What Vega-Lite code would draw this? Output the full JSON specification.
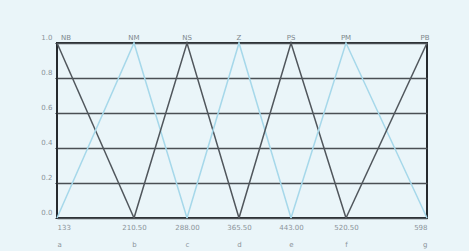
{
  "$schema": "https://vega.github.io/schema/vega-lite/v6.json",
  "width": 370,
  "height": 175,
  "autosize": {"type": "none"},
  "padding": {"left": 57, "top": 43, "right": 42, "bottom": 33},
  "background": "#eaf5f9",
  "config": {
    "view": {"stroke": "#262a2e", "strokeWidth": 2, "fill": "#eaf5f9"},
    "font": "DejaVu Sans"
  },
  "datasets": {
    "lines": [
      {"set": "NB", "tone": "dark", "x": 133, "y": 1},
      {"set": "NB", "tone": "dark", "x": 210.5, "y": 0},
      {"set": "NM", "tone": "light", "x": 133, "y": 0},
      {"set": "NM", "tone": "light", "x": 210.5, "y": 1},
      {"set": "NM", "tone": "light", "x": 288, "y": 0},
      {"set": "NS", "tone": "dark", "x": 210.5, "y": 0},
      {"set": "NS", "tone": "dark", "x": 288, "y": 1},
      {"set": "NS", "tone": "dark", "x": 365.5, "y": 0},
      {"set": "Z", "tone": "light", "x": 288, "y": 0},
      {"set": "Z", "tone": "light", "x": 365.5, "y": 1},
      {"set": "Z", "tone": "light", "x": 443, "y": 0},
      {"set": "PS", "tone": "dark", "x": 365.5, "y": 0},
      {"set": "PS", "tone": "dark", "x": 443, "y": 1},
      {"set": "PS", "tone": "dark", "x": 520.5, "y": 0},
      {"set": "PM", "tone": "light", "x": 443, "y": 0},
      {"set": "PM", "tone": "light", "x": 520.5, "y": 1},
      {"set": "PM", "tone": "light", "x": 598, "y": 0},
      {"set": "PB", "tone": "dark", "x": 520.5, "y": 0},
      {"set": "PB", "tone": "dark", "x": 598, "y": 1}
    ],
    "peaks": [
      {"set": "NB", "x": 133, "y": 1},
      {"set": "NM", "x": 210.5, "y": 1},
      {"set": "NS", "x": 288, "y": 1},
      {"set": "Z", "x": 365.5, "y": 1},
      {"set": "PS", "x": 443, "y": 1},
      {"set": "PM", "x": 520.5, "y": 1},
      {"set": "PB", "x": 598, "y": 1}
    ]
  },
  "layer": [
    {
      "data": {"name": "lines"},
      "mark": {"type": "line", "strokeWidth": 1.5},
      "encoding": {
        "x": {
          "field": "x", "type": "quantitative",
          "scale": {"domain": [133, 210.5, 288, 365.5, 443, 520.5, 598], "range": [0, 77, 130, 182, 234, 289, 370], "nice": false, "zero": false},
          "axis": {
            "title": null,
            "values": [133, 210.5, 288, 365.5, 443, 520.5, 598],
            "tickCount": 20,
            "labelExpr": "datum.value == 133 ? ['133', 'a'] : datum.value == 210.5 ? ['210.50', 'b'] : datum.value == 288 ? ['288.00', 'c'] : datum.value == 365.5 ? ['365.50', 'd'] : datum.value == 443 ? ['443.00', 'e'] : datum.value == 520.5 ? ['520.50', 'f'] : ['598', 'g']",
            "labelLineHeight": 17,
            "labelFontSize": 7,
            "labelColor": "#8a9499",
            "labelPadding": 5,
            "labelOverlap": false,
            "labelBound": false,
            "ticks": false,
            "domain": false,
            "grid": false
          }
        },
        "y": {
          "field": "y", "type": "quantitative",
          "scale": {"domain": [0, 1], "nice": false},
          "axis": {
            "title": null,
            "values": [0, 0.2, 0.4, 0.6, 0.8, 1],
            "tickCount": 20,
            "format": ".1f",
            "labelFontSize": 7,
            "labelColor": "#8a9499",
            "labelOffset": -6,
            "labelPadding": 3,
            "labelOverlap": false,
            "labelBound": false,
            "labelFlush": false,
            "ticks": true,
            "tickSize": 2,
            "tickColor": "#262a2e",
            "domain": false,
            "grid": true,
            "gridColor": "#4a4f54",
            "gridWidth": 1.5,
            "gridOpacity": 1
          }
        },
        "detail": {"field": "set"},
        "color": {
          "field": "tone", "type": "nominal",
          "scale": {"domain": ["dark", "light"], "range": ["#50565c", "#a6d8ea"]},
          "legend": null
        }
      }
    },
    {
      "data": {"name": "peaks"},
      "transform": [{"filter": "datum.set != 'NB' && datum.set != 'PB'"}],
      "mark": {"type": "text", "fontSize": 7, "color": "#7d878c", "baseline": "bottom", "dy": -2},
      "encoding": {
        "x": {"field": "x", "type": "quantitative"},
        "y": {"field": "y", "type": "quantitative"},
        "text": {"field": "set"}
      }
    },
    {
      "data": {"name": "peaks"},
      "transform": [{"filter": "datum.set == 'NB'"}],
      "mark": {"type": "text", "fontSize": 7, "color": "#7d878c", "baseline": "bottom", "align": "left", "dx": 4, "dy": -2},
      "encoding": {
        "x": {"field": "x", "type": "quantitative"},
        "y": {"field": "y", "type": "quantitative"},
        "text": {"field": "set"}
      }
    },
    {
      "data": {"name": "peaks"},
      "transform": [{"filter": "datum.set == 'PB'"}],
      "mark": {"type": "text", "fontSize": 7, "color": "#7d878c", "baseline": "bottom", "align": "center", "dx": -2, "dy": -2},
      "encoding": {
        "x": {"field": "x", "type": "quantitative"},
        "y": {"field": "y", "type": "quantitative"},
        "text": {"field": "set"}
      }
    }
  ]
}
